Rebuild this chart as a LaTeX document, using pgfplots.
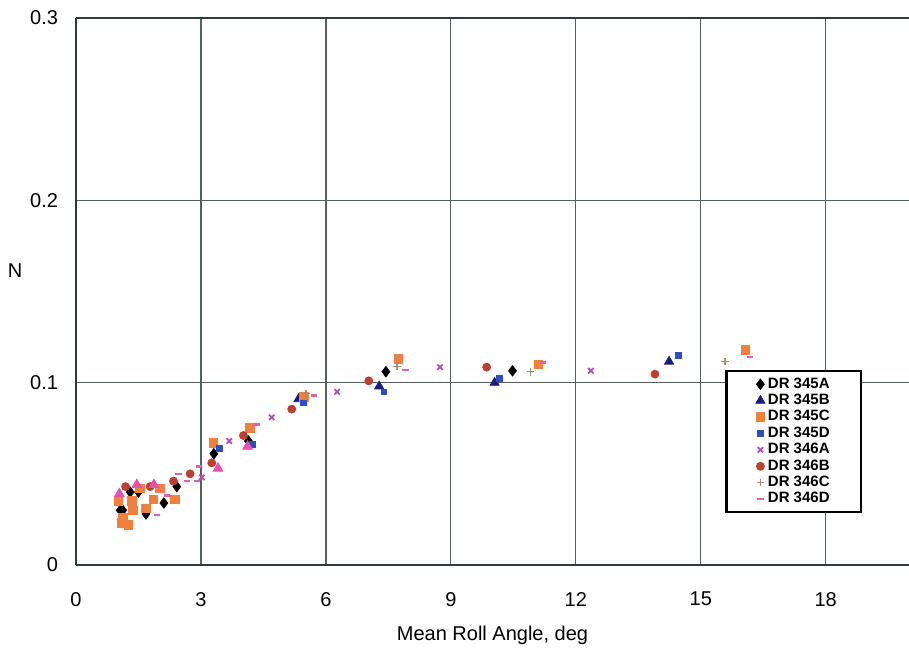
\documentclass[border=0pt]{standalone}
\usepackage{fontspec}
\setmainfont{Liberation Sans}
\usepackage{pgfplots}
\pgfplotsset{compat=1.18}
\definecolor{axiscol}{HTML}{2F3B38}
\definecolor{gridcol}{HTML}{55605C}
\definecolor{cA}{HTML}{000000}
\definecolor{cB}{HTML}{1C1C80}
\definecolor{cC}{HTML}{F08040}
\definecolor{cD}{HTML}{2E4EC0}
\definecolor{cE}{HTML}{B050B0}
\definecolor{cF}{HTML}{BC4030}
\definecolor{cG}{HTML}{A09070}
\definecolor{cH}{HTML}{E060B0}
\definecolor{cI}{HTML}{E850B0}
\begin{document}
\begin{tikzpicture}
\begin{axis}[
  scale only axis, width=416.5pt, height=273.5pt,
  xmin=0, xmax=20, ymin=0, ymax=0.3,
  axis x line=box, axis y line=left,
  axis line style={-, line width=1.1pt, color=axiscol},
  xtick={0,3,6,9,12,15,18},
  ytick={0,0.1,0.2,0.3},
  yticklabels={0,0.1,0.2,0.3},
  grid=major, major grid style={line width=0.6pt, color=gridcol},
  major tick length=0pt,
  tick label style={font=\fontsize{10}{12}\selectfont},
  /pgf/number format/assume math mode=true,
  xticklabel style={yshift=-10pt},
  yticklabel style={xshift=-5.5pt},
  xlabel={Mean Roll Angle, deg},
  ylabel={N},
  every axis x label/.style={at={(axis description cs:0.5,0)}, anchor=center, yshift=-35pt},
  every axis y label/.style={at={(axis description cs:0,0.539)}, anchor=center, xshift=-30.5pt},
  label style={font=\fontsize{10}{12}\selectfont},
  legend style={at={(0.7795,0.3565)}, anchor=north west, draw=black, line width=1.1pt,
    fill=white, font=\fontsize{7.5}{8}\selectfont\bfseries, inner xsep=1pt, inner ysep=2.5pt,
    nodes={inner xsep=1.5pt, inner ysep=0.6pt, text height=5.4pt, text depth=1.6pt}},
  legend cell align=left,
  legend image code/.code={\path[draw=none,fill=none] (0pt,0pt) -- (16pt,0pt); \draw[#1, line width=0.4pt] plot coordinates {(16pt,0pt)};},
]
\addplot[only marks, mark=diamond*, mark size=2.6pt, color=cA] coordinates {
(1.06,0.030) (1.12,0.030) (1.30,0.040) (1.50,0.040) (1.68,0.028) (2.11,0.034)
(2.42,0.043) (3.31,0.061) (4.14,0.068) (7.44,0.106) (10.48,0.1065)};
\addlegendentry{\makebox[44pt][l]{DR 345A}}
\addplot[only marks, mark=triangle*, mark size=2.6pt, color=cB] coordinates {
(5.34,0.091) (7.28,0.098) (10.05,0.100) (14.24,0.1116)};
\addlegendentry{DR 345B}
\addplot[only marks, mark=square*, mark size=2.2pt, color=cC] coordinates {
(1.02,0.035) (1.12,0.026) (1.10,0.023) (1.26,0.022) (1.34,0.035) (1.36,0.030)
(1.54,0.042) (1.68,0.031) (1.86,0.036) (2.02,0.042) (2.38,0.036) (3.30,0.067)
(4.18,0.075) (5.47,0.092) (7.74,0.113) (11.10,0.110) (16.07,0.118)};
\addlegendentry{DR 345C}
\addplot[only marks, mark=square*, mark size=1.4pt, color=cD] coordinates {
(3.44,0.064) (4.24,0.066) (5.46,0.089) (7.39,0.095) (10.16,0.1025) (14.47,0.115)};
\addlegendentry{DR 345D}
\addplot[only marks, mark=x, mark size=1.9pt, color=cE, mark options={line width=0.9pt}] coordinates {
(3.02,0.048) (3.68,0.068) (4.70,0.081) (6.27,0.095) (8.74,0.1085) (12.36,0.1065)};
\addlegendentry{DR 346A}
\addplot[only marks, mark=*, mark size=2.0pt, color=cF] coordinates {
(1.19,0.043) (1.78,0.043) (2.34,0.046) (2.74,0.050) (3.26,0.056) (4.02,0.071)
(5.18,0.0855) (7.03,0.101) (9.86,0.1085) (13.90,0.1047)};
\addlegendentry{DR 346B}
\addplot[only marks, mark=+, mark size=1.9pt, color=cG, mark options={line width=0.7pt}] coordinates {
(5.52,0.094) (7.71,0.109) (10.91,0.106) (15.58,0.1116)};
\addlegendentry{DR 346C}
\addplot[only marks, mark=-, mark size=1.6pt, color=cH, mark options={line width=1.3pt}] coordinates {
(1.94,0.0275) (2.18,0.038) (2.46,0.050) (2.66,0.046) (2.90,0.046) (2.95,0.054)
(4.34,0.077) (5.72,0.093) (7.91,0.107) (11.21,0.111) (16.18,0.114)};
\addlegendentry{DR 346D}
\addplot[only marks, mark=triangle*, mark size=2.8pt, color=cI, forget plot] coordinates {
(1.04,0.039) (1.46,0.044) (1.87,0.044) (3.41,0.053) (4.12,0.065)};
\end{axis}
\pgfresetboundingbox
\path (-38pt,-41pt) rectangle (416.5pt,282.5pt);
\end{tikzpicture}
\end{document}
